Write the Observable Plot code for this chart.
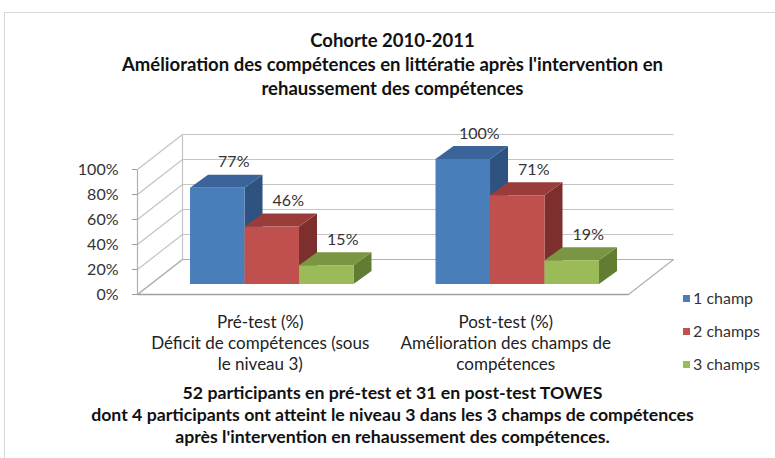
<!DOCTYPE html>
<html>
<head>
<meta charset="utf-8">
<script src="https://cdn.jsdelivr.net/npm/d3@7"></script>
<script src="https://cdn.jsdelivr.net/npm/@observablehq/plot@0.6"></script>
<style>
  html, body { margin: 0; padding: 0; background: #fff; }
  #wrap { position: relative; width: 775px; height: 458px; overflow: hidden; font-family: Lato, "Open Sans", sans-serif; background: #fff; }
  #frame { position: absolute; left: 4px; top: 12px; width: 800px; height: 460px; border-left: 1.5px solid #d6d6d6; border-top: 1.5px solid #d6d6d6; }
  .title { position: absolute; left: 0; width: 785px; text-align: center; font-weight: bold; color: #111; }
  #title { top: 28px; font-size: 18.5px; line-height: 24px; }
  #caption { top: 382px; font-size: 17.7px; line-height: 22px; }
  #chart { position: absolute; left: 0; top: 100px; }
  #legend { position: absolute; left: 683px; top: 0; }
  .li { position: absolute; left: 0; white-space: nowrap; font-size: 16px; color: #333; }
  .sw { display: inline-block; width: 7px; height: 7px; margin-right: 3px; vertical-align: middle; position: relative; top: -1px; }
</style>
</head>
<body>
<div id="wrap">
  <div id="frame"></div>
  <div id="title" class="title"></div>
  <div id="chart"></div>
  <div id="legend"></div>
  <div id="caption" class="title"></div>
</div>
<script>
// ---- data ----
const titleLines = ["Cohorte 2010-2011", "Amélioration des compétences en littératie après l'intervention en", "rehaussement des compétences"];
const captionLines = ["52 participants en pré-test et 31 en post-test TOWES", "dont 4 participants ont atteint le niveau 3 dans les 3 champs de compétences", "après l'intervention en rehaussement des compétences."];
const groups = ["Pré-test (%)\nDéficit de compétences (sous\nle niveau 3)", "Post-test (%)\nAmélioration des champs de\ncompétences"];
const series = ["1 champ", "2 champs", "3 champs"];
const preTest = [77, 46, 15];
const postTest = [100, 71, 19];
const yTicks = [0, 20, 40, 60, 80, 100];

// ---- styles ----
const frontColors = ["#4a7ebb", "#c0504d", "#9bbb59"];
const topColors = ["#3b659a", "#9a3d3a", "#7a9642"];
const sideColors = ["#2f5381", "#7c2f2d", "#637c34"];

// ---- layout (oblique 3D projection in data units) ----
const wallDX = 45 / 245.5, wallDY = 28;      // depth of the floor / side wall
const barDX = 13 / 245.5, barDY = 8;         // bars' plane offset from front
const depthDX = 18 / 245.5, depthDY = 10.4;  // bars' own depth
const barStart = 0.163, barW = 0.222;

document.getElementById("title").innerHTML = titleLines.join("<br>");
document.getElementById("caption").innerHTML = captionLines.join("<br>");

const values = [preTest, postTest];
const bars = [];
groups.forEach((g, gi) => series.forEach((s, si) => {
  const x1 = gi + barStart + si * barW;
  bars.push({group: g, gi, series: s, si, v: values[gi][si], x1, x2: x1 + barW, key: gi + "-" + si});
}));

const topFaces = bars.flatMap(b => [
  {key: b.key, si: b.si, y: b.v + barDY, x1: b.x1 + barDX, x2: b.x2 + barDX},
  {key: b.key, si: b.si, y: b.v + barDY + depthDY, x1: b.x1 + barDX + depthDX, x2: b.x2 + barDX + depthDX}
]);
const sideFaces = bars.flatMap(b => [
  {key: b.key, si: b.si, x: b.x2 + barDX, y1: barDY, y2: b.v + barDY},
  {key: b.key, si: b.si, x: b.x2 + barDX + depthDX, y1: barDY + depthDY, y2: b.v + barDY + depthDY}
]);
const floor = [
  {x: 0, y: 0}, {x: 2, y: 0}, {x: 2 + wallDX, y: wallDY}, {x: wallDX, y: wallDY}, {x: 0, y: 0}
];

const barMarks = [];
series.forEach((s, si) => {
  barMarks.push(Plot.areaY(sideFaces.filter(d => d.si === si), {x: "x", y1: "y1", y2: "y2", z: "key", fill: sideColors[si]}));
  barMarks.push(Plot.areaX(topFaces.filter(d => d.si === si), {y: "y", x1: "x1", x2: "x2", z: "key", fill: topColors[si]}));
  barMarks.push(Plot.rect(bars.filter(d => d.si === si), {
    x1: d => d.x1 + barDX, x2: d => d.x2 + barDX, y1: barDY, y2: d => d.v + barDY, fill: frontColors[si]
  }));
});

const chart = Plot.plot({
  width: 775,
  height: 280,
  marginLeft: 137,
  marginRight: 147,
  marginTop: 69,
  marginBottom: 86,
  style: {fontFamily: "Lato, 'Open Sans', sans-serif", background: "transparent"},
  x: {domain: [0, 2], axis: null},
  y: {domain: [0, 100], axis: null},
  marks: [
    // back wall gridlines
    Plot.link(yTicks, {x1: wallDX, x2: 2 + wallDX, y1: d => d + wallDY, y2: d => d + wallDY, stroke: "#c4c4c4", strokeWidth: 1.2}),
    // side wall diagonals
    Plot.link(yTicks, {x1: 0, x2: wallDX, y1: d => d, y2: d => d + wallDY, stroke: "#c4c4c4", strokeWidth: 1.2}),
    // side wall vertical edges
    Plot.link([0], {x1: wallDX, x2: wallDX, y1: wallDY, y2: 100 + wallDY, stroke: "#c4c4c4", strokeWidth: 1.2}),
    Plot.link([0], {x1: 0, x2: 0, y1: 0, y2: 100, stroke: "#b0b0b0", strokeWidth: 1.2}),
    // floor
    Plot.line(floor, {x: "x", y: "y", stroke: "#b0b0b0", strokeWidth: 1.2}),
    Plot.link([0], {x1: 0, x2: 2, y1: 0, y2: 0, stroke: "#a0a0a0", strokeWidth: 1.6}),
    // bars
    ...barMarks,
    // data labels
    Plot.text(bars, {
      x: d => (d.x1 + d.x2) / 2 + barDX, y: d => d.v + barDY, text: d => d.v + "%",
      dx: 16, dy: -26, fontSize: 16, fill: "#333"
    }),
    // y axis
    Plot.axisY(yTicks, {tickFormat: d => d + "%", tickSize: 5, tickPadding: 14, fontSize: 16, color: "#333", stroke: "#9a9a9a"}),
    // group labels
    Plot.text(groups, {
      x: (d, i) => i + 0.5, y: 0, text: d => d, dy: 19, lineAnchor: "top", lineHeight: 1.22,
      fontSize: 17, fill: "#222"
    })
  ]
});
document.getElementById("chart").appendChild(chart);

// legend
const legend = document.getElementById("legend");
const legendY = [298, 331, 364];
series.forEach((s, i) => {
  const el = document.createElement("div");
  el.className = "li";
  el.style.top = (legendY[i] - 10) + "px";
  el.innerHTML = `<span class="sw" style="background:${frontColors[i]}"></span>${s}`;
  legend.appendChild(el);
});
</script>
</body>
</html>
